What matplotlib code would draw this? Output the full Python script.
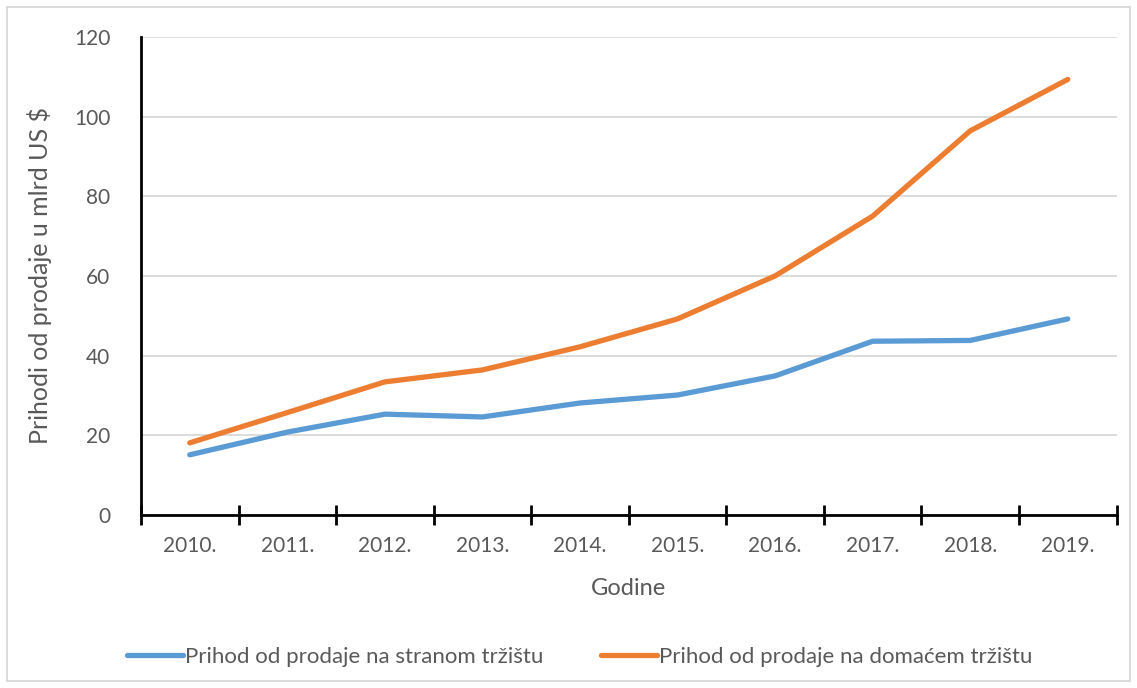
"""Prihodi od prodaje - line chart."""

import matplotlib

matplotlib.use("Agg")

import matplotlib.pyplot as plt
from matplotlib.patches import Rectangle
import numpy as np

YEARS = ["2010.", "2011.", "2012.", "2013.", "2014.", "2015.", "2016.", "2017.", "2018.", "2019."]
FOREIGN = [15.1, 20.8, 25.3, 24.6, 28.1, 30.1, 34.9, 43.6, 43.8, 49.2]
DOMESTIC = [18.1, 25.7, 33.4, 36.4, 42.2, 49.2, 60.0, 75.0, 96.4, 109.3]
SERIES_NAMES = ["Prihod od prodaje na stranom tržištu", "Prihod od prodaje na domaćem tržištu"]
Y_TICKS = [0, 20, 40, 60, 80, 100, 120]

TEXT = "#595959"
plt.rcParams["font.family"] = ["Lato", "DejaVu Sans"]

figure = plt.figure(figsize=(11.37, 6.88), dpi=100)
axes = figure.add_axes([0.124, 0.2515, 0.858, 0.695])

x = np.arange(len(YEARS))
axes.plot(x, FOREIGN, color="#5B9BD5", linewidth=3.8, solid_capstyle="round",
          label=SERIES_NAMES[0], zorder=3)
axes.plot(x, DOMESTIC, color="#ED7D31", linewidth=3.8, solid_capstyle="round",
          label=SERIES_NAMES[1], zorder=3)

axes.set_xlim(-0.5, len(YEARS) - 0.5)
axes.set_ylim(0, 120)
axes.set_yticks(Y_TICKS)
axes.set_xticks(x)
axes.set_xticklabels(YEARS)
axes.set_xticks(np.arange(-0.5, len(YEARS)), minor=True)
axes.tick_params(axis="x", which="major", length=0, pad=15, labelsize=15, labelcolor=TEXT)
axes.tick_params(axis="x", which="minor", direction="inout", length=14, width=2, color="black")
axes.tick_params(axis="y", length=0, pad=22, labelsize=15, labelcolor=TEXT)
axes.grid(axis="y", color="#D9D9D9", linewidth=1.3)
axes.set_axisbelow(True)

for side in ("top", "right"):
    axes.spines[side].set_visible(False)
for side in ("left", "bottom"):
    axes.spines[side].set_linewidth(2)
    axes.spines[side].set_color("black")

axes.set_xlabel("Godine", fontsize=17, color=TEXT, labelpad=16)
axes.set_ylabel("Prihodi od prodaje u mlrd US $", fontsize=18, color=TEXT, labelpad=16)

figure.legend(loc="center", bbox_to_anchor=(0.51, 0.045), ncol=2, frameon=False,
              fontsize=16, labelcolor=TEXT, handlelength=2.5, handletextpad=0.1,
              columnspacing=2.6)

figure.patches.append(Rectangle((0.006, 0.01), 0.988, 0.98, transform=figure.transFigure,
                                fill=False, edgecolor="#D9D9D9", linewidth=1.3))

figure.savefig("out.png", dpi=100)
plt.close(figure)
